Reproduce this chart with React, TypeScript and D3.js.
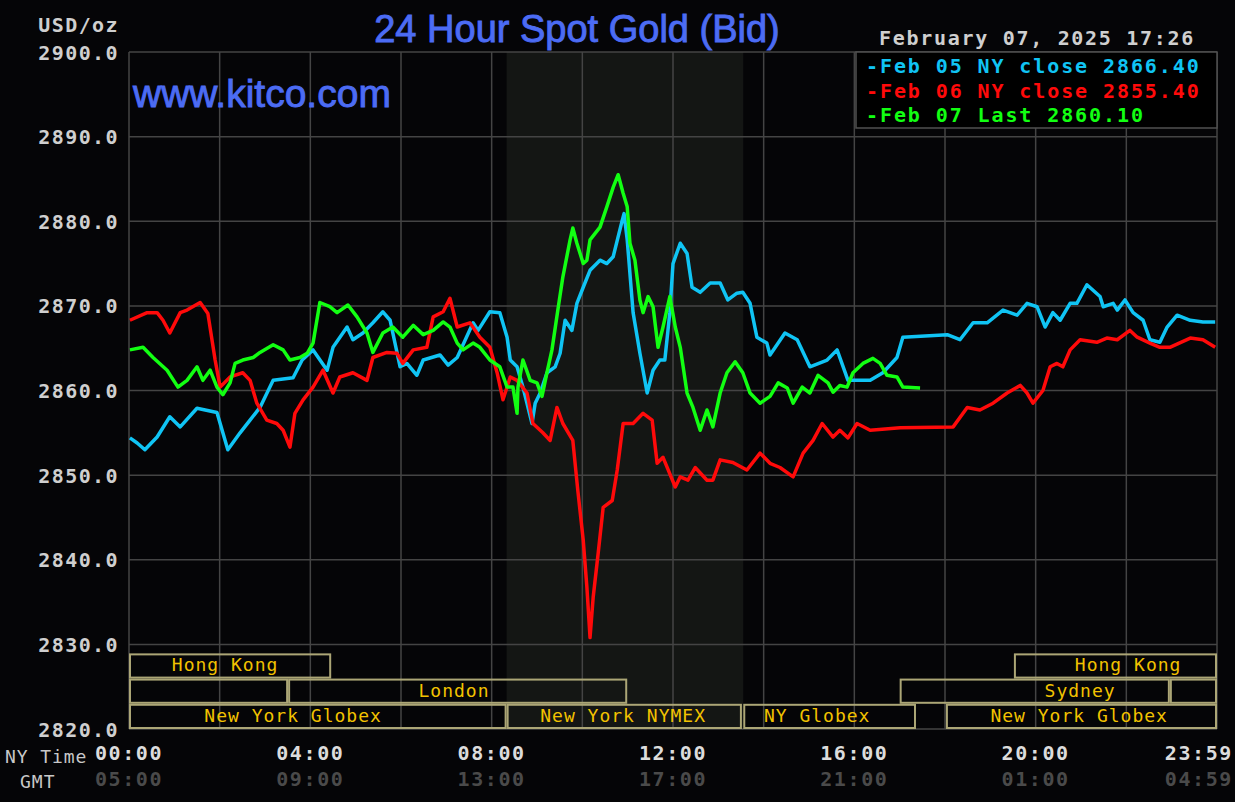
import React from "react";
import * as d3 from "d3";

const W = 1235;
const H = 802;

const priceTicks = [2820, 2830, 2840, 2850, 2860, 2870, 2880, 2890, 2900];
const tickHours = [0, 4, 8, 12, 16, 20, 24];
const nyTimeLabels = ["00:00", "04:00", "08:00", "12:00", "16:00", "20:00", "23:59"];
const gmtLabels = ["05:00", "09:00", "13:00", "17:00", "21:00", "01:00", "04:59"];

// [hour of NY day, bid price]
const feb05: [number, number][] = [
  [0.02, 2854.4], [0.18, 2853.8], [0.35, 2853.0], [0.62, 2854.5], [0.9, 2856.9], [1.13, 2855.7],
  [1.5, 2857.9], [1.94, 2857.4], [2.18, 2853.0], [2.45, 2855.0], [2.67, 2856.5], [2.89, 2858.0],
  [3.18, 2861.2], [3.62, 2861.5], [3.82, 2863.6], [4.06, 2864.8], [4.37, 2862.4], [4.5, 2865.1],
  [4.81, 2867.5], [4.94, 2866.0], [5.16, 2866.8], [5.38, 2868.0], [5.6, 2869.3], [5.76, 2868.3],
  [5.98, 2862.8], [6.13, 2863.2], [6.35, 2861.8], [6.49, 2863.6], [6.86, 2864.2], [7.04, 2863.0],
  [7.24, 2863.9], [7.59, 2868.0], [7.7, 2867.1], [7.96, 2869.3], [8.18, 2869.2], [8.34, 2866.3],
  [8.41, 2863.6], [8.56, 2862.8], [8.69, 2860.4], [8.89, 2856.1], [8.96, 2858.5], [9.07, 2859.7],
  [9.22, 2862.1], [9.4, 2862.8], [9.51, 2864.4], [9.62, 2868.3], [9.77, 2867.1], [9.88, 2870.3],
  [10.02, 2872.2], [10.17, 2874.2], [10.39, 2875.4], [10.54, 2875.0], [10.68, 2875.8], [10.88, 2880.1],
  [10.92, 2880.9], [10.99, 2877.8], [11.12, 2869.2], [11.27, 2864.4], [11.43, 2859.7], [11.56, 2862.4],
  [11.71, 2863.6], [11.82, 2863.6], [11.93, 2869.2], [12.0, 2875.0], [12.16, 2877.4], [12.31, 2876.2],
  [12.42, 2872.2], [12.6, 2871.6], [12.82, 2872.7], [13.04, 2872.7], [13.21, 2870.7], [13.41, 2871.5],
  [13.54, 2871.6], [13.7, 2870.3], [13.85, 2866.3], [14.07, 2865.6], [14.14, 2864.2], [14.47, 2866.8],
  [14.74, 2866.0], [15.02, 2862.8], [15.4, 2863.6], [15.62, 2864.8], [15.86, 2861.2], [16.35, 2861.2],
  [16.63, 2862.1], [16.94, 2863.9], [17.07, 2866.3], [18.05, 2866.6], [18.33, 2866.0], [18.62, 2868.0],
  [18.93, 2868.0], [19.28, 2869.5], [19.59, 2868.9], [19.81, 2870.3], [20.03, 2869.9], [20.21, 2867.5],
  [20.38, 2869.2], [20.54, 2868.3], [20.76, 2870.3], [20.91, 2870.3], [21.13, 2872.5], [21.42, 2871.1],
  [21.49, 2869.9], [21.71, 2870.3], [21.8, 2869.5], [21.97, 2870.7], [22.15, 2869.2], [22.37, 2868.3],
  [22.52, 2866.0], [22.74, 2865.7], [22.9, 2867.5], [23.12, 2868.9], [23.41, 2868.3], [23.69, 2868.1],
  [23.96, 2868.1],
];

const feb06: [number, number][] = [
  [0.02, 2868.3], [0.4, 2869.2], [0.62, 2869.2], [0.75, 2868.3], [0.9, 2866.8], [1.13, 2869.2],
  [1.28, 2869.5], [1.57, 2870.4], [1.74, 2869.1], [1.9, 2863.6], [2.01, 2860.4], [2.23, 2861.6],
  [2.51, 2862.1], [2.67, 2861.2], [2.82, 2858.5], [3.04, 2856.5], [3.26, 2856.1], [3.4, 2855.3],
  [3.55, 2853.3], [3.66, 2857.3], [3.84, 2858.9], [4.06, 2860.4], [4.28, 2862.4], [4.5, 2859.7],
  [4.65, 2861.6], [4.94, 2862.1], [5.25, 2861.2], [5.38, 2863.9], [5.69, 2864.5], [5.91, 2864.4],
  [6.04, 2863.2], [6.27, 2864.8], [6.57, 2865.1], [6.71, 2868.7], [6.93, 2869.3], [7.08, 2870.9],
  [7.24, 2867.5], [7.52, 2868.0], [7.74, 2866.3], [7.96, 2865.1], [8.12, 2862.1], [8.25, 2858.9],
  [8.41, 2861.6], [8.56, 2861.2], [8.78, 2859.7], [8.91, 2856.1], [9.13, 2855.0], [9.29, 2854.1],
  [9.44, 2858.0], [9.57, 2856.1], [9.79, 2854.1], [9.9, 2848.2], [10.02, 2842.3], [10.1, 2836.8],
  [10.17, 2830.8], [10.24, 2835.6], [10.35, 2840.8], [10.46, 2846.2], [10.66, 2847.0], [10.77, 2850.6],
  [10.9, 2856.1], [11.12, 2856.1], [11.34, 2857.3], [11.54, 2856.5], [11.65, 2851.4], [11.78, 2852.1],
  [12.05, 2848.6], [12.16, 2849.8], [12.33, 2849.4], [12.49, 2850.9], [12.75, 2849.4], [12.88, 2849.4],
  [13.04, 2851.8], [13.32, 2851.5], [13.63, 2850.6], [13.92, 2852.6], [14.14, 2851.4], [14.36, 2850.9],
  [14.65, 2849.8], [14.87, 2852.6], [15.09, 2854.1], [15.29, 2856.1], [15.53, 2854.5], [15.68, 2855.3],
  [15.86, 2854.4], [16.06, 2856.1], [16.35, 2855.3], [17.01, 2855.6], [18.18, 2855.7], [18.49, 2858.0],
  [18.77, 2857.7], [19.06, 2858.5], [19.37, 2859.7], [19.66, 2860.6], [19.81, 2859.7], [19.94, 2858.5],
  [20.16, 2860.0], [20.32, 2862.8], [20.47, 2863.2], [20.6, 2862.8], [20.76, 2864.8], [20.98, 2866.0],
  [21.35, 2865.7], [21.57, 2866.2], [21.8, 2866.0], [22.08, 2867.1], [22.24, 2866.3], [22.52, 2865.6],
  [22.74, 2865.1], [22.96, 2865.1], [23.41, 2866.2], [23.69, 2866.0], [23.96, 2865.1],
];

const feb07: [number, number][] = [
  [0.02, 2864.8], [0.31, 2865.1], [0.53, 2863.9], [0.84, 2862.4], [1.08, 2860.4], [1.28, 2861.2],
  [1.5, 2862.8], [1.63, 2861.2], [1.79, 2862.4], [1.94, 2860.4], [2.07, 2859.5], [2.23, 2860.9],
  [2.34, 2863.2], [2.51, 2863.6], [2.74, 2863.9], [2.89, 2864.5], [3.18, 2865.4], [3.4, 2864.8],
  [3.55, 2863.6], [3.77, 2863.9], [3.93, 2864.4], [4.06, 2865.6], [4.21, 2870.4], [4.43, 2869.9],
  [4.59, 2869.2], [4.83, 2870.1], [5.03, 2868.7], [5.25, 2866.8], [5.38, 2864.5], [5.6, 2866.8],
  [5.82, 2867.5], [6.04, 2866.3], [6.27, 2867.7], [6.49, 2866.6], [6.71, 2867.1], [6.93, 2868.1],
  [7.08, 2867.5], [7.24, 2865.6], [7.37, 2864.8], [7.59, 2865.6], [7.74, 2865.1], [7.96, 2863.6],
  [8.18, 2862.8], [8.34, 2860.4], [8.47, 2860.4], [8.56, 2857.3], [8.58, 2860.4], [8.69, 2863.6],
  [8.85, 2861.2], [9.0, 2860.9], [9.11, 2859.3], [9.22, 2862.1], [9.33, 2864.8], [9.46, 2869.5],
  [9.57, 2873.4], [9.73, 2877.8], [9.79, 2879.2], [9.88, 2877.4], [10.02, 2875.0], [10.1, 2875.4],
  [10.17, 2877.8], [10.39, 2879.3], [10.54, 2881.7], [10.68, 2884.0], [10.79, 2885.5], [10.9, 2883.3],
  [10.99, 2881.7], [11.05, 2877.4], [11.16, 2875.4], [11.27, 2870.7], [11.34, 2869.2], [11.45, 2871.1],
  [11.56, 2869.9], [11.67, 2865.1], [11.78, 2867.5], [11.93, 2871.1], [12.05, 2867.5], [12.16, 2865.1],
  [12.31, 2859.7], [12.44, 2858.0], [12.6, 2855.3], [12.75, 2857.7], [12.88, 2855.7], [13.04, 2859.7],
  [13.19, 2862.1], [13.37, 2863.4], [13.54, 2862.1], [13.7, 2859.7], [13.92, 2858.5], [14.14, 2859.3],
  [14.32, 2860.9], [14.52, 2860.3], [14.65, 2858.5], [14.85, 2860.4], [15.02, 2859.7], [15.2, 2861.8],
  [15.42, 2860.9], [15.53, 2859.8], [15.68, 2860.6], [15.84, 2860.4], [15.97, 2862.1], [16.19, 2863.2],
  [16.41, 2863.8], [16.57, 2863.2], [16.72, 2861.8], [16.94, 2861.6], [17.07, 2860.4], [17.45, 2860.3],
];

const seriesNames = ["Feb 05 NY close 2866.40", "Feb 06 NY close 2855.40", "Feb 07 Last 2860.10"];
const seriesColors = ["#10c4f4", "#ff0a0a", "#12ff12"];
const seriesData = [feb05, feb06, feb07];

// trading sessions: row, start hour, end hour, label, label centre hour
const sessions = [
  { row: 0, start: 0, end: 4.46, label: "Hong Kong", at: 2.12 },
  { row: 0, start: 19.52, end: 24, label: "Hong Kong", at: 22.04 },
  { row: 1, start: 0, end: 3.51, label: "", at: 0 },
  { row: 1, start: 3.51, end: 10.99, label: "London", at: 7.17 },
  { row: 1, start: 17.0, end: 22.96, label: "Sydney", at: 20.98 },
  { row: 1, start: 22.96, end: 24, label: "", at: 0 },
  { row: 2, start: 0, end: 8.33, label: "New York Globex", at: 3.62 },
  { row: 2, start: 8.33, end: 13.52, label: "New York NYMEX", at: 10.9 },
  { row: 2, start: 13.55, end: 17.36, label: "NY Globex", at: 15.18 },
  { row: 2, start: 18.02, end: 24, label: "New York Globex", at: 20.96 },
];
const nymexHours = [8.33, 13.55];

const mono = "'DejaVu Sans Mono', 'Liberation Mono', monospace";
const sans = "'Liberation Sans', Arial, sans-serif";

export default function App() {
  const margin = { top: 52, right: 18, bottom: 73, left: 129 };
  const x = d3.scaleLinear().domain([0, 24]).range([margin.left, W - margin.right]);
  const y = d3.scaleLinear().domain([2820, 2900]).range([H - margin.bottom, margin.top]);
  const rowBand = d3.scaleBand<number>().domain([0, 1, 2]).range([y(2830) + 9, y(2820)]);
  const line = d3
    .line<[number, number]>()
    .x((d) => x(d[0]))
    .y((d) => y(d[1]));
  const gridHours = d3.range(0, 25, 2);
  const grid = "#444444";
  const tan = "#aca676";

  return (
    <svg
      width={W}
      height={H}
      style={{ position: "absolute", left: 0, top: 0, background: "#050507" }}
    >
      <rect x={0} y={0} width={W} height={H} fill="#050507" />

      {/* NYMEX hours shading */}
      <rect
        x={x(nymexHours[0])}
        y={y(2900)}
        width={x(nymexHours[1]) - x(nymexHours[0])}
        height={y(2820) - y(2900)}
        fill="#141614"
      />

      {/* grid */}
      {gridHours.map((h) => (
        <line key={"v" + h} x1={x(h)} x2={x(h)} y1={y(2900)} y2={y(2820)} stroke={grid} strokeWidth={1.5} />
      ))}
      {priceTicks.map((p) => (
        <line key={"h" + p} x1={x(0)} x2={x(24)} y1={y(p)} y2={y(p)} stroke={grid} strokeWidth={1.5} />
      ))}

      {/* session boxes */}
      {sessions.map((s, i) => {
        const top = rowBand(s.row) ?? 0;
        return (
          <g key={"s" + i}>
            <rect
              x={x(s.start) + 1}
              y={top + 1}
              width={x(s.end) - x(s.start) - 2}
              height={rowBand.bandwidth() - 2}
              fill="none"
              stroke={tan}
              strokeWidth={2}
            />
            {s.label && (
              <text
                x={x(s.at)}
                y={top + 18}
                textAnchor="middle"
                fill="#f2c200"
                fontFamily={mono}
                fontSize={18}
                letterSpacing={1}
              >
                {s.label}
              </text>
            )}
          </g>
        );
      })}

      {/* price lines */}
      {seriesData.map((d, i) => (
        <path
          key={"l" + i}
          d={line(d) ?? ""}
          fill="none"
          stroke={seriesColors[i]}
          strokeWidth={3.5}
          strokeLinejoin="round"
        />
      ))}

      {/* legend */}
      <rect x={856} y={y(2900)} width={x(24) - 856} height={76} fill="#000" stroke="#505050" strokeWidth={1.5} />
      {seriesNames.map((n, i) => (
        <text
          key={"lg" + i}
          x={866}
          y={y(2900) + 21 + i * 24.5}
          fill={seriesColors[i]}
          fontFamily={mono}
          fontWeight="bold"
          fontSize={20}
          letterSpacing={1.9}
        >
          {"-" + n}
        </text>
      ))}

      {/* titles */}
      <text x={577} y={42} textAnchor="middle" fill="#4c6cf4" fontFamily={sans} fontSize={38} stroke="#4c6cf4" strokeWidth={0.9}>
        24 Hour Spot Gold (Bid)
      </text>
      <text x={133} y={107} fill="#4c6cf4" fontFamily={sans} fontSize={39} stroke="#4c6cf4" strokeWidth={0.9}>
        www.kitco.com
      </text>
      <text x={879} y={45} fill="#cfcfcf" fontFamily={mono} fontWeight="bold" fontSize={20} letterSpacing={1.7}>
        February 07, 2025 17:26
      </text>
      <text x={119} y={32} textAnchor="end" fill="#cfcfcf" fontFamily={mono} fontWeight="bold" fontSize={20} letterSpacing={1.4}>
        USD/oz
      </text>

      {/* y axis labels */}
      {priceTicks.map((p) => (
        <text
          key={"yt" + p}
          x={119}
          y={y(p) + 7.5}
          textAnchor="end"
          fill="#cfcfcf"
          fontFamily={mono}
          fontWeight="bold"
          fontSize={20}
          letterSpacing={1.4}
        >
          {p.toFixed(1)}
        </text>
      ))}

      {/* x axis labels */}
      <text x={5} y={763} fill="#c8c8c8" fontFamily={mono} fontSize={18} letterSpacing={0.9}>
        NY Time
      </text>
      <text x={20} y={788} fill="#c8c8c8" fontFamily={mono} fontSize={18} letterSpacing={1}>
        GMT
      </text>
      {tickHours.map((h, i) => {
        const last = i === tickHours.length - 1;
        const tx = last ? x(h) + 16 : x(h);
        const anchor = last ? "end" : "middle";
        return (
          <g key={"xt" + h}>
            <text x={tx} y={760} textAnchor={anchor} fill="#dcdcdc" fontFamily={mono} fontWeight="bold" fontSize={20} letterSpacing={1.6}>
              {nyTimeLabels[i]}
            </text>
            <text x={tx} y={786} textAnchor={anchor} fill="#4a4a4a" fontFamily={mono} fontWeight="bold" fontSize={20} letterSpacing={1.6}>
              {gmtLabels[i]}
            </text>
          </g>
        );
      })}
    </svg>
  );
}
